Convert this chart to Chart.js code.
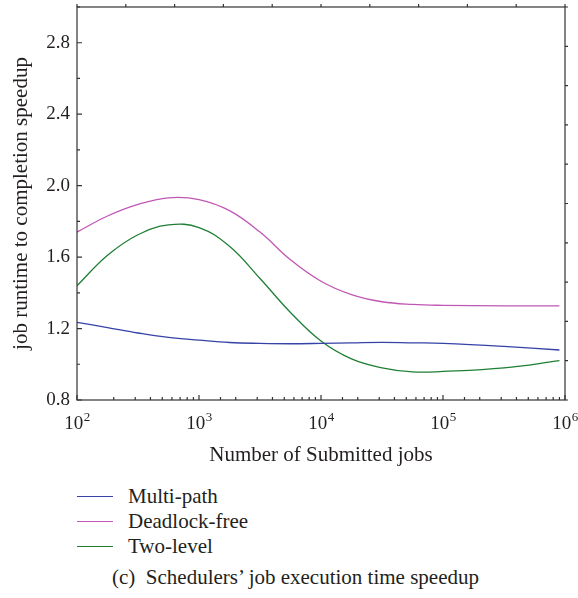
<!DOCTYPE html>
<html>
<head>
<meta charset="utf-8">
<script src="https://cdn.jsdelivr.net/npm/chart.js@4/dist/chart.umd.min.js"></script>
<style>
  body { margin: 0; background: #fff; font-family: "Liberation Serif", serif; color: #231f20; }
  #wrap { position: relative; width: 578px; height: 598px; }
  #chartBox { position: absolute; left: 0; top: 0; width: 578px; height: 470px; }
  #legend { position: absolute; left: 77px; top: 484px; }
  .item { display: flex; align-items: center; height: 25px; font-size: 21px; }
  .item .swatch { width: 36px; border-top: 1.5px solid; margin-right: 15px; }
  #caption { position: absolute; left: 112px; top: 565px; font-size: 21px; white-space: nowrap; }
</style>
</head>
<body>
<div id="wrap">
  <div id="chartBox"><canvas id="mycanvas"></canvas></div>
  <div id="legend"></div>
  <div id="caption">(c)&nbsp; Schedulers’ job execution time speedup</div>
</div>
<script>
// number of submitted jobs (log axis)
const jobs = [100, 178, 316, 562, 1000, 1778, 3162, 5623, 10000, 17783, 31623, 56234, 100000, 316228, 900000];

const multiPath    = [1.235, 1.205, 1.175, 1.150, 1.135, 1.122, 1.117, 1.115, 1.117, 1.120, 1.123, 1.120, 1.117, 1.100, 1.080];
const deadlockFree = [1.740, 1.830, 1.895, 1.932, 1.922, 1.860, 1.740, 1.585, 1.465, 1.390, 1.350, 1.335, 1.330, 1.327, 1.327];
const twoLevel     = [1.440, 1.610, 1.725, 1.780, 1.765, 1.660, 1.480, 1.290, 1.130, 1.030, 0.980, 0.957, 0.960, 0.980, 1.020];

const seriesNames = ["Multi-path", "Deadlock-free", "Two-level"];
const seriesColors = ["#3542a6", "#c157b4", "#1f7f35"];
const yLabels = ["0.8", "1.2", "1.6", "2.0", "2.4", "2.8"];

const FONT = "'Liberation Serif', serif";
const INK = "#231f20";

const toPoints = (ys) => jobs.map((x, i) => ({ x: x, y: ys[i] }));

const datasets = [multiPath, deadlockFree, twoLevel].map((ys, i) => ({
  label: seriesNames[i],
  data: toPoints(ys),
  borderColor: seriesColors[i],
  borderWidth: 1.3,
  pointRadius: 0,
  fill: false,
  tension: 0.4,
}));

// box around the plot, inward ticks bottom/left, outward ticks top/right,
// and the 10^n labels with a real raised exponent
const frame = {
  id: "frame",
  afterDraw(chart) {
    const { ctx, chartArea: a, scales } = chart;
    ctx.save();
    ctx.strokeStyle = "#333";
    ctx.lineWidth = 1.2;
    ctx.strokeRect(a.left, a.top, a.right - a.left, a.bottom - a.top);
    ctx.beginPath();
    scales.y.ticks.forEach((t) => {
      const py = scales.y.getPixelForValue(t.value);
      ctx.moveTo(a.left, py);
      ctx.lineTo(a.left + (t.label ? 5 : 3), py);
    });
    scales.x.ticks.forEach((t) => {
      const px = scales.x.getPixelForValue(t.value);
      ctx.moveTo(px, a.bottom);
      ctx.lineTo(px, a.bottom - (t.label ? 5 : 3));
    });
    scales.x2.ticks.forEach((t) => {
      const px = scales.x2.getPixelForValue(t.value);
      ctx.moveTo(px, a.top);
      ctx.lineTo(px, a.top - 3);
    });
    scales.y2.ticks.forEach((t) => {
      const py = scales.y2.getPixelForValue(t.value);
      ctx.moveTo(a.right, py);
      ctx.lineTo(a.right + 3, py);
    });
    ctx.stroke();

    ctx.fillStyle = INK;
    ctx.textBaseline = "alphabetic";
    ctx.textAlign = "left";
    scales.x.ticks.forEach((t) => {
      if (!t.label) return;
      const px = scales.x.getPixelForValue(t.value);
      const [base, exp] = t.label.split("^");
      ctx.font = "19px " + FONT;
      const wb = ctx.measureText(base).width;
      ctx.font = "13px " + FONT;
      const we = ctx.measureText(exp).width;
      const x0 = px - (wb + we) / 2;
      ctx.font = "19px " + FONT;
      ctx.fillText(base, x0, a.bottom + 29);
      ctx.font = "13px " + FONT;
      ctx.fillText(exp, x0 + wb + 0.5, a.bottom + 21);
    });
    ctx.restore();
  },
};

const config = {
  type: "line",
  data: { datasets },
  options: {
    responsive: false,
    animation: false,
    layout: { padding: { top: 7, right: 13, left: 0, bottom: 0 } },
    plugins: { legend: { display: false }, tooltip: { enabled: false } },
    scales: {
      x: {
        type: "logarithmic",
        min: 100,
        max: 1000000,
        grid: { display: false, drawTicks: false },
        border: { display: false },
        ticks: {
          display: false,
          autoSkip: false,
          callback: function (value) {
            const e = Math.log10(value);
            return Math.abs(e - Math.round(e)) < 1e-9 ? "10^" + Math.round(e) : "";
          },
        },
        title: {
          display: true,
          text: "Number of Submitted jobs",
          color: INK,
          font: { family: FONT, size: 21 },
          padding: { top: 0, bottom: 2 },
        },
        afterFit: function (scale) {
          scale.height = 70;
          scale.paddingLeft = 0;
          scale.paddingRight = 0;
        },
      },
      y: {
        min: 0.8,
        max: 3.0,
        grid: { display: false, drawTicks: false },
        border: { display: false },
        ticks: {
          stepSize: 0.2,
          padding: 7,
          color: INK,
          font: { family: FONT, size: 19 },
          callback: function (value) {
            const s = Number(value).toFixed(1);
            return yLabels.includes(s) ? s : "";
          },
        },
        title: {
          display: true,
          text: "job runtime to completion speedup",
          color: INK,
          font: { family: FONT, size: 21 },
          padding: { top: 9, bottom: 0 },
        },
        afterFit: function (scale) {
          scale.width = 77;
          scale.paddingTop = 0;
          scale.paddingBottom = 0;
        },
      },
      x2: { type: "linear", position: "top", min: 0, max: 1, display: false, ticks: { stepSize: 0.1 } },
      y2: { type: "linear", position: "right", min: 0, max: 1, display: false, ticks: { stepSize: 0.1 } },
    },
  },
  plugins: [frame],
};

const canvas = document.querySelector("#mycanvas");
canvas.width = 578;
canvas.height = 470;
const myChart = new Chart(canvas.getContext("2d"), config);

// legend as a vertical list under the axis title
const legend = document.querySelector("#legend");
seriesNames.forEach((name, i) => {
  const row = document.createElement("div");
  row.className = "item";
  const sw = document.createElement("span");
  sw.className = "swatch";
  sw.style.borderColor = seriesColors[i];
  const txt = document.createElement("span");
  txt.textContent = name;
  row.appendChild(sw);
  row.appendChild(txt);
  legend.appendChild(row);
});
</script>
</body>
</html>
